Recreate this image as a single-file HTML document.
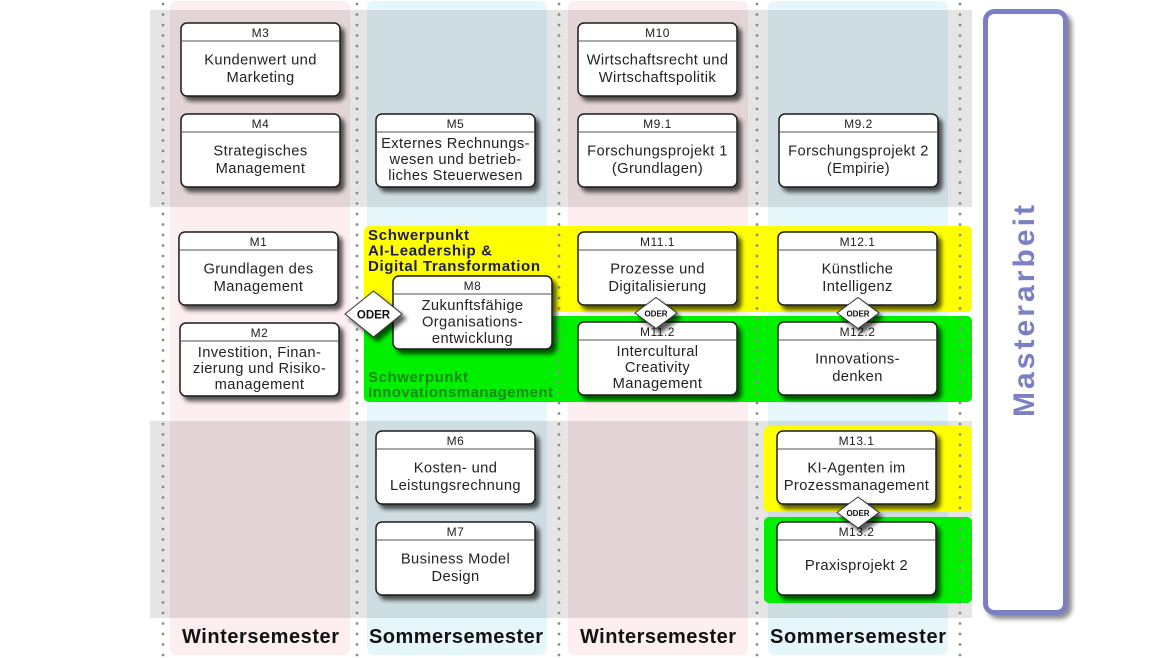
<!DOCTYPE html>
<html>
<head>
<meta charset="utf-8">
<style>
html,body{margin:0;padding:0;background:#fff;}
svg{display:block;}
.bx{fill:#fff;stroke:#1c1c1c;stroke-width:1.5;}
.hl{stroke:#8a8a8a;stroke-width:1.6;}
.cd{font-family:"Liberation Sans",sans-serif;font-size:12px;letter-spacing:0.5px;fill:#222;text-anchor:middle;}
.tt{font-family:"Liberation Sans",sans-serif;font-size:14.7px;letter-spacing:0.4px;fill:#222;text-anchor:middle;}
.dot{stroke:#8c8c8c;stroke-width:2.8;stroke-linecap:round;stroke-dasharray:0 10.5;}
.sy{font-family:"Liberation Sans",sans-serif;font-size:15px;font-weight:bold;fill:#1c1c4c;}
.sg{font-family:"Liberation Sans",sans-serif;font-size:15px;font-weight:bold;fill:#178a17;}
.sem{font-family:"Liberation Sans",sans-serif;font-size:20px;font-weight:bold;fill:#111;}
.dm{fill:#fff;stroke:#333;stroke-width:1;}
.od{font-family:"Liberation Sans",sans-serif;font-weight:bold;fill:#111;text-anchor:middle;}
</style>
</head>
<body>
<svg width="1170" height="658" viewBox="0 0 1170 658" xmlns="http://www.w3.org/2000/svg">
<defs>
<filter id="sh" x="-20%" y="-20%" width="150%" height="160%">
<feDropShadow dx="4" dy="4.5" stdDeviation="2" flood-color="#000" flood-opacity="0.65"/>
</filter>
<filter id="sh2" x="-20%" y="-10%" width="160%" height="130%">
<feDropShadow dx="4" dy="4" stdDeviation="2.5" flood-color="#000" flood-opacity="0.45"/>
</filter>
</defs>

<!-- column backgrounds -->
<rect x="170" y="1" width="180" height="654" rx="7" fill="#fdeef0"/>
<rect x="367" y="1" width="180" height="654" rx="7" fill="#e6f7fc"/>
<rect x="568" y="1" width="180" height="654" rx="7" fill="#fdeef0"/>
<rect x="768" y="1" width="180" height="654" rx="7" fill="#e6f7fc"/>

<!-- gray bands -->
<rect x="150" y="10" width="822" height="197" fill="#000" fill-opacity="0.1"/>
<rect x="150" y="421" width="822" height="197" fill="#000" fill-opacity="0.1"/>

<!-- Schwerpunkt bands -->
<rect x="364" y="226" width="608" height="86" rx="5" fill="#ffff00"/>
<rect x="364" y="316" width="608" height="86" rx="5" fill="#00f000"/>
<rect x="764" y="426" width="208" height="86" rx="5" fill="#ffff00"/>
<rect x="764" y="517" width="208" height="86" rx="5" fill="#00f000"/>

<!-- dotted lines -->
<line class="dot" x1="163" y1="4" x2="163" y2="656"/>
<line class="dot" x1="357" y1="4" x2="357" y2="656"/>
<line class="dot" x1="559" y1="4" x2="559" y2="656"/>
<line class="dot" x1="757" y1="4" x2="757" y2="656"/>
<line class="dot" x1="960" y1="4" x2="960" y2="656"/>

<!-- Schwerpunkt labels -->
<text class="sy" x="368" y="240" textLength="101">Schwerpunkt</text>
<text class="sy" x="368" y="255.5" textLength="124">AI-Leadership &amp;</text>
<text class="sy" x="368" y="271" textLength="172">Digital Transformation</text>
<text class="sg" x="368" y="382" textLength="100">Schwerpunkt</text>
<text class="sg" x="368" y="397" textLength="185">Innovationsmanagement</text>

<!-- boxes -->
<g filter="url(#sh)">
<rect class="bx" x="181" y="23" width="159" height="73" rx="6"/>
<rect class="bx" x="181" y="114" width="159" height="73" rx="6"/>
<rect class="bx" x="376" y="114" width="159" height="73" rx="6"/>
<rect class="bx" x="578" y="23" width="159" height="73" rx="6"/>
<rect class="bx" x="578" y="114" width="159" height="73" rx="6"/>
<rect class="bx" x="779" y="114" width="159" height="73" rx="6"/>
<rect class="bx" x="179" y="232" width="159" height="73" rx="6"/>
<rect class="bx" x="180" y="323" width="159" height="73" rx="6"/>
<rect class="bx" x="393" y="276" width="159" height="73" rx="6"/>
<rect class="bx" x="578" y="232" width="159" height="73" rx="6"/>
<rect class="bx" x="578" y="322" width="159" height="73" rx="6"/>
<rect class="bx" x="778" y="232" width="159" height="73" rx="6"/>
<rect class="bx" x="778" y="322" width="159" height="73" rx="6"/>
<rect class="bx" x="376" y="431" width="159" height="73" rx="6"/>
<rect class="bx" x="376" y="522" width="159" height="73" rx="6"/>
<rect class="bx" x="777" y="431" width="159" height="73" rx="6"/>
<rect class="bx" x="777" y="522" width="159" height="73" rx="6"/>
</g>

<!-- header lines -->
<line class="hl" x1="182" y1="41" x2="339" y2="41"/>
<line class="hl" x1="182" y1="132" x2="339" y2="132"/>
<line class="hl" x1="377" y1="132" x2="534" y2="132"/>
<line class="hl" x1="579" y1="41" x2="736" y2="41"/>
<line class="hl" x1="579" y1="132" x2="736" y2="132"/>
<line class="hl" x1="780" y1="132" x2="937" y2="132"/>
<line class="hl" x1="180" y1="250" x2="337" y2="250"/>
<line class="hl" x1="181" y1="341" x2="338" y2="341"/>
<line class="hl" x1="394" y1="294" x2="551" y2="294"/>
<line class="hl" x1="579" y1="250" x2="736" y2="250"/>
<line class="hl" x1="579" y1="340" x2="736" y2="340"/>
<line class="hl" x1="779" y1="250" x2="936" y2="250"/>
<line class="hl" x1="779" y1="340" x2="936" y2="340"/>
<line class="hl" x1="377" y1="449" x2="534" y2="449"/>
<line class="hl" x1="377" y1="540" x2="534" y2="540"/>
<line class="hl" x1="778" y1="449" x2="935" y2="449"/>
<line class="hl" x1="778" y1="540" x2="935" y2="540"/>

<!-- box texts -->
<text class="cd" x="260.5" y="37">M3</text>
<text class="tt" x="260.5" y="64.5">Kundenwert und</text>
<text class="tt" x="260.5" y="82">Marketing</text>

<text class="cd" x="260.5" y="128">M4</text>
<text class="tt" x="260.5" y="155.5">Strategisches</text>
<text class="tt" x="260.5" y="173">Management</text>

<text class="cd" x="455.5" y="128">M5</text>
<text class="tt" x="455.5" y="148">Externes Rechnungs-</text>
<text class="tt" x="455.5" y="164">wesen und betrieb-</text>
<text class="tt" x="455.5" y="180">liches Steuerwesen</text>

<text class="cd" x="657.5" y="37">M10</text>
<text class="tt" x="657.5" y="64.5">Wirtschaftsrecht und</text>
<text class="tt" x="657.5" y="82">Wirtschaftspolitik</text>

<text class="cd" x="657.5" y="128">M9.1</text>
<text class="tt" x="657.5" y="155.5">Forschungsprojekt 1</text>
<text class="tt" x="657.5" y="173">(Grundlagen)</text>

<text class="cd" x="858.5" y="128">M9.2</text>
<text class="tt" x="858.5" y="155.5">Forschungsprojekt 2</text>
<text class="tt" x="858.5" y="173">(Empirie)</text>

<text class="cd" x="258.5" y="246">M1</text>
<text class="tt" x="258.5" y="273.5">Grundlagen des</text>
<text class="tt" x="258.5" y="291">Management</text>

<text class="cd" x="259.5" y="337">M2</text>
<text class="tt" x="259.5" y="357">Investition, Finan-</text>
<text class="tt" x="259.5" y="373">zierung und Risiko-</text>
<text class="tt" x="259.5" y="389">management</text>

<text class="cd" x="472.5" y="290">M8</text>
<text class="tt" x="472.5" y="310">Zukunftsfähige</text>
<text class="tt" x="472.5" y="326.5">Organisations-</text>
<text class="tt" x="472.5" y="343">entwicklung</text>

<text class="cd" x="657.5" y="246">M11.1</text>
<text class="tt" x="657.5" y="273.5">Prozesse und</text>
<text class="tt" x="657.5" y="291">Digitalisierung</text>

<text class="cd" x="657.5" y="336">M11.2</text>
<text class="tt" x="657.5" y="356">Intercultural</text>
<text class="tt" x="657.5" y="372">Creativity</text>
<text class="tt" x="657.5" y="388">Management</text>

<text class="cd" x="857.5" y="246">M12.1</text>
<text class="tt" x="857.5" y="273.5">Künstliche</text>
<text class="tt" x="857.5" y="291">Intelligenz</text>

<text class="cd" x="857.5" y="336">M12.2</text>
<text class="tt" x="857.5" y="363.5">Innovations-</text>
<text class="tt" x="857.5" y="381">denken</text>

<text class="cd" x="455.5" y="445">M6</text>
<text class="tt" x="455.5" y="472.5">Kosten- und</text>
<text class="tt" x="455.5" y="490">Leistungsrechnung</text>

<text class="cd" x="455.5" y="536">M7</text>
<text class="tt" x="455.5" y="563.5">Business Model</text>
<text class="tt" x="455.5" y="581">Design</text>

<text class="cd" x="856.5" y="445">M13.1</text>
<text class="tt" x="856.5" y="472.5">KI-Agenten im</text>
<text class="tt" x="856.5" y="490">Prozessmanagement</text>

<text class="cd" x="856.5" y="536">M13.2</text>
<text class="tt" x="856.5" y="570">Praxisprojekt 2</text>

<!-- ODER diamonds -->
<g filter="url(#sh)">
<polygon class="dm" points="345,314 373.5,291 402,314 373.5,337"/>
<polygon class="dm" points="635,313 656,297.5 677,313 656,328.5"/>
<polygon class="dm" points="837,313 858,297.5 879,313 858,328.5"/>
<polygon class="dm" points="837,512.5 858,497 879,512.5 858,528"/>
</g>
<text class="od" x="373.5" y="318.5" font-size="11.5">ODER</text>
<text class="od" x="656" y="316.5" font-size="8">ODER</text>
<text class="od" x="858" y="316.5" font-size="8">ODER</text>
<text class="od" x="858" y="516" font-size="8">ODER</text>

<!-- semester labels -->
<text class="sem" x="182" y="643" textLength="157">Wintersemester</text>
<text class="sem" x="369" y="643" textLength="174">Sommersemester</text>
<text class="sem" x="580" y="643" textLength="156">Wintersemester</text>
<text class="sem" x="770" y="643" textLength="176">Sommersemester</text>

<!-- Masterarbeit -->
<g filter="url(#sh2)">
<rect x="985.5" y="11.5" width="80" height="601" rx="9" fill="#fff" stroke="#7b7fc4" stroke-width="5"/>
</g>
<text transform="translate(1034,311) rotate(-90)" text-anchor="middle" font-family="Liberation Sans, sans-serif" font-size="30" font-weight="bold" fill="#7b7fc4" textLength="212">Masterarbeit</text>
</svg>
</body>
</html>
